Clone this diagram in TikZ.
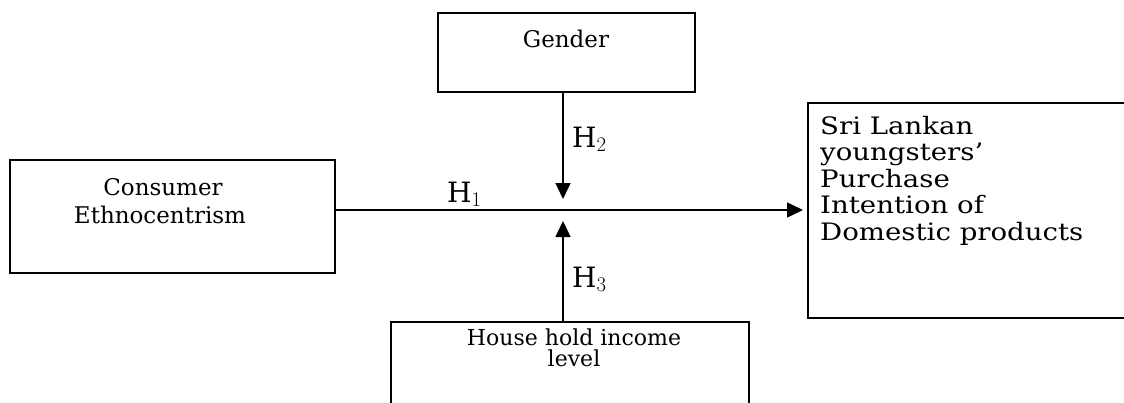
\documentclass[tikz,border=0pt]{standalone}
\usepackage{fontspec}
\setmainfont{DejaVu Serif}
\newfontfamily\widefont{DejaVu Serif}[FakeStretch=1.15]
\usetikzlibrary{arrows.meta}
\tikzset{
  box/.style={draw, line width=1.5pt, rectangle, inner sep=0pt},
  txt/.style={inner sep=0pt, font=\fontsize{23}{28}\selectfont},
  inctxt/.style={inner sep=0pt, font=\fontsize{22}{28}\selectfont},
  bigtxt/.style={inner sep=0pt, font=\widefont\fontsize{24}{27}\selectfont},
  lab/.style={inner sep=0pt, font=\fontsize{28}{28}\selectfont},
  conn/.style={line width=1.5pt, -{Triangle[length=16pt,width=15pt]}},
}
\begin{document}
\begin{tikzpicture}[x=1pt,y=-1pt]
\clip (0,0) rectangle (1124,402);
\fill[white] (0,0) rectangle (1124,402);
% boxes
\node[box, minimum width=325pt, minimum height=113pt] (ce) at (172.5,216.5) {};
\node[box, minimum width=257pt, minimum height=79pt] (gen) at (566.5,52.5) {};
\node[box, minimum width=330pt, minimum height=215pt, anchor=north west] (out) at (807,102) {};
\node[box, minimum width=358pt, minimum height=100pt, anchor=north west] (inc) at (390,321) {};
% texts
\node[txt, anchor=base] (t1) at (163,195) {Consumer};
\node[txt, anchor=base] (t2) at (160,223) {Ethnocentrism};
\node[txt, anchor=base] (t3) at (566,47) {Gender};
\node[bigtxt, anchor=base west] (t4) at (820,134) {Sri Lankan};
\node[bigtxt, anchor=base west] (t5) at (820,160) {youngsters’};
\node[bigtxt, anchor=base west] (t6) at (820,187) {Purchase};
\node[bigtxt, anchor=base west] (t7) at (820,213) {Intention of};
\node[bigtxt, anchor=base west] (t8) at (820,240) {Domestic products};
\node[inctxt, anchor=base] (t9) at (574,345) {House hold income};
\node[inctxt, anchor=base] (t10) at (574,366) {level};
% connectors
\coordinate (m) at (563,210);
\coordinate (m2) at (563,199);
\coordinate (m3) at (563,221);
\draw[conn] (ce.east |- m) -- ([xshift=-4pt]out.west |- m);
\draw[conn] (gen.south -| m) -- (m2);
\draw[conn] (inc.north -| m) -- (m3);
% labels
\node[lab, anchor=base west] (h1) at (447,202) {H$_1$};
\node[lab, anchor=base west] (h2) at (572,147) {H$_2$};
\node[lab, anchor=base west] (h3) at (572,287) {H$_3$};
\end{tikzpicture}
\end{document}
